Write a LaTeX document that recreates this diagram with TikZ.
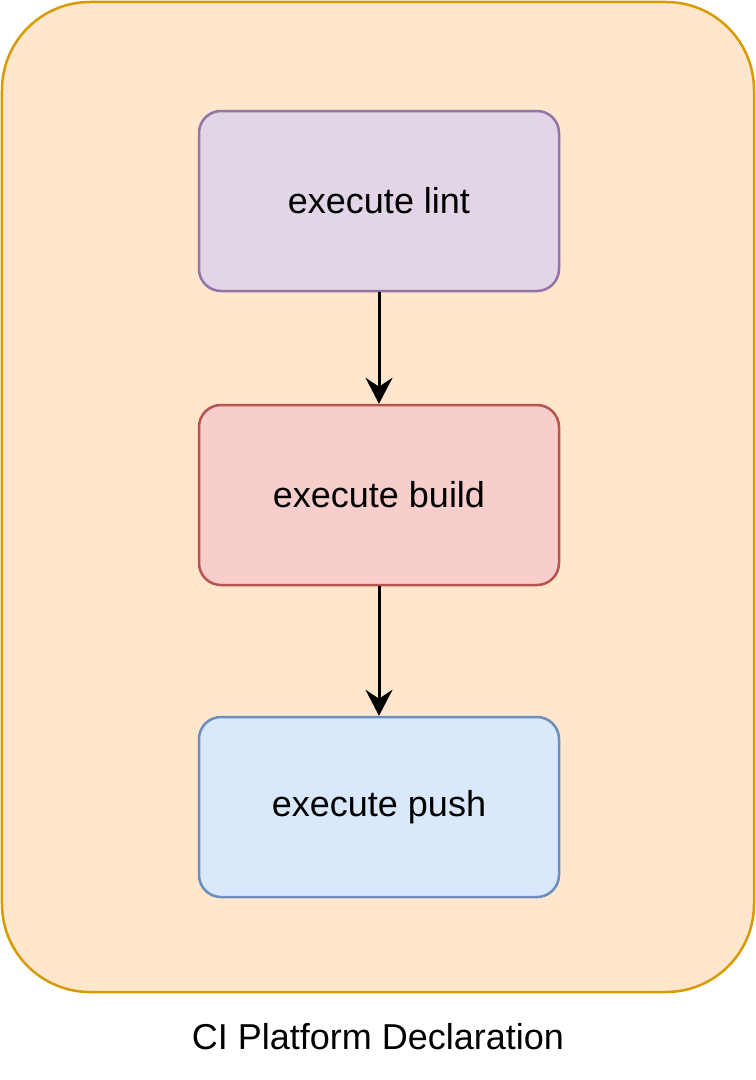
\documentclass[tikz,border=0pt]{standalone}
\usepackage{fontspec}
\setmainfont{Liberation Sans}
\usetikzlibrary{arrows.meta}
\definecolor{platfill}{HTML}{FFE6CC}
\definecolor{platline}{HTML}{D79B00}
\definecolor{lintfill}{HTML}{E1D5E7}
\definecolor{lintline}{HTML}{9673A6}
\definecolor{buildfill}{HTML}{F8CECC}
\definecolor{buildline}{HTML}{B85450}
\definecolor{pushfill}{HTML}{DAE8FC}
\definecolor{pushline}{HTML}{6C8EBF}
\begin{document}
\begin{tikzpicture}[
  x=1bp, y=-1bp,
  every node/.style={
    font=\fontsize{36bp}{43bp}\selectfont,
    inner sep=0pt
  },
  stage/.style={
    draw,
    line width=2.5bp,
    rounded corners=22bp,
    minimum width=360bp,
    minimum height=180bp
  },
  flow/.style={-{Stealth[length=26bp,width=27bp,inset=9bp]}, line width=3bp}
]
\useasboundingbox (0,0) rectangle (756,1080);
\node[draw=platline, fill=platfill, line width=2.5bp, rounded corners=88bp,
  minimum width=752bp, minimum height=990bp] (platform) at (378,497) {};
\node[stage, draw=lintline, fill=lintfill] (lint) at (379,201) {execute lint};
\node[stage, draw=buildline, fill=buildfill] (build) at (379,495) {execute build};
\node[stage, draw=pushline, fill=pushfill] (push) at (379,807) {execute push};
\node (caption) at (378,1037) {CI Platform Declaration};
\draw[flow] (lint) -- (build);
\draw[flow] (build) -- (push);
\end{tikzpicture}
\end{document}
